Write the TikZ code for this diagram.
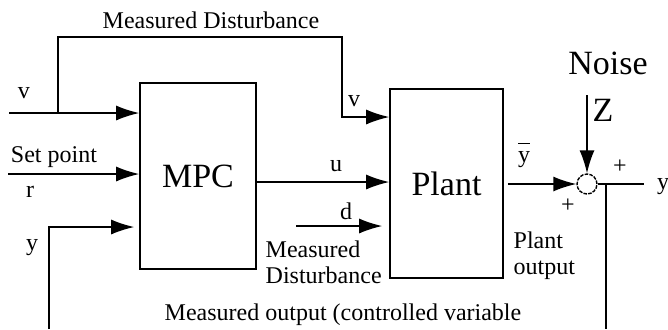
\documentclass[tikz,border=0pt]{standalone}
\usepackage{fontspec}
\setmainfont{Liberation Serif}
\usetikzlibrary{arrows.meta,positioning}

\begin{document}
\begin{tikzpicture}[
    x=0.5pt, y=-0.5pt,
    >={Latex[length=11.5pt,width=7.5pt]},
    line width=0.7pt,
    every node/.style={font=\fontsize{12}{13}\selectfont,inner sep=0pt},
    blk/.style={rectangle,draw,line width=0.8pt,font=\fontsize{17}{20}\selectfont},
    sumpt/.style={circle,draw,dash pattern=on 1.8pt off 0.6pt,line width=0.7pt,minimum size=10pt},
    sig/.style={->},
    big/.style={font=\fontsize{17}{20}\selectfont}
  ]
  \useasboundingbox (0,0) rectangle (668,329);
  %% Controller and plant
  \node[blk,minimum width=58pt,minimum height=93pt]     (mpc)   at (198,176)   {MPC};
  \node[blk,minimum width=56.5pt,minimum height=94.5pt] (plant) at (446.5,183.5) {Plant};
  \node[sumpt] (sum) at (587,184) {};
  %% Free ends
  \coordinate (vin)    at (9,113);
  \coordinate (vsplit) at (58,113);
  \coordinate (vdown)  at (342,117);
  \coordinate (rin)    at (8,174);
  \coordinate (ybot)   at (49,329);
  \coordinate (ycorn)  at (49,227);
  \coordinate (din)    at (296,226);
  \coordinate (zin)    at (587,95);
  \coordinate (yout)   at (644,184);
  \coordinate (fbbot)  at (606,329);
  \coordinate (uout)   at ([yshift=-3pt]mpc.east);
  %% Inputs to the MPC
  \draw[sig] (vin) -- (mpc.west |- vin);
  \draw[sig] (rin) -- (mpc.west |- rin);
  \draw[sig,shorten >=2.5pt] (ybot) -- (ycorn) -- (mpc.west |- ycorn);
  %% Measured disturbance fed forward to the plant
  \draw[sig] (vsplit) -- ++(0,-76) -| (vdown) -- (plant.west |- vdown);
  %% Plant inputs
  \draw[sig] (uout) -- (uout -| plant.west);
  \draw[sig,shorten >=3.5pt] (din) -- (din -| plant.west);
  %% Output, noise and feedback
  \draw[sig,shorten <=2pt] (plant.east |- sum) -- (sum);
  \draw[sig] (zin) -- (sum);
  \draw (sum) -- (yout);
  \draw (sum -| fbbot) -- (fbbot);
  %% Labels
  \node (mdtop) at (211,20)  {Measured Disturbance};
  \node (vlab)  at (24,93)   {v};
  \node (vplab) at (354,101) {v};
  \node (splab) at (54,157)  {Set point};
  \node (rlab)  at (30,192)  {r};
  \node (ylab)  at (32,248)  {y};
  \node (ulab)  at (336,166) {u};
  \node (dlab)  at (346,211) {d};
  \node[anchor=west,align=left] (mdlow) at (265,262) {Measured\\Disturbance};
  \node (ybar)  at (524,155) {$\overline{\vphantom{T}\mbox{y}}$};
  \node[anchor=west,align=left] (polab) at (513,256) {Plant\\output};
  \node (ptop)  at (620,167) {+};
  \node (pbot)  at (568,206) {+};
  \node (yrlab) at (663,187) {y};
  \node[big] (noise) at (608,63)  {Noise};
  \node[big] (zlab)  at (603,110) {Z};
  \node (molab) at (343,315) {Measured output (controlled variable};
\end{tikzpicture}
\end{document}
